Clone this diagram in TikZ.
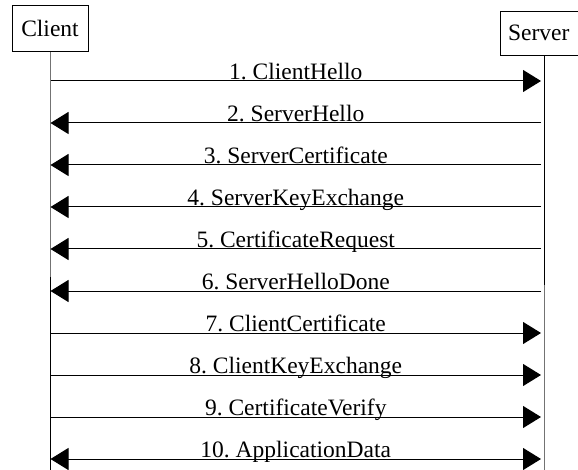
\documentclass[tikz,border=0pt]{standalone}
\usepackage{fontspec}
\setmainfont{Liberation Serif}
\usetikzlibrary{arrows.meta,calc}
\begin{document}
\frenchspacing
\begin{tikzpicture}[x=1pt,y=-1pt,
  actor/.style={draw=black, line width=0.8pt, fill=white, inner sep=0pt, font=\fontsize{23.5}{27}\selectfont},
  msg/.style={line width=1pt, -{Triangle[length=18pt,width=22pt]}},
  bimsg/.style={line width=1pt, {Triangle[length=18pt,width=22pt]}-{Triangle[length=18pt,width=22pt]}},
  lbl/.style={font=\fontsize{23.5}{27}\selectfont\frenchspacing, inner sep=0pt, anchor=base},
  life/.style={line width=1pt}]
\useasboundingbox (0,0) rectangle (578,470);
% lifelines
\coordinate (ctop) at (50,51);
\coordinate (cmid) at (50,277);
\coordinate (cbot) at (50,470);
\coordinate (stop) at (544,55);
\coordinate (smid) at (544,285);
\coordinate (sbot) at (544,470);
\draw[life, draw=black!55] (ctop) -- (cmid);
\draw[life] (cmid) -- (cbot);
\draw[life] (stop) -- (smid);
\draw[life, draw=black!55] (smid) -- (sbot);
% actors
\node[actor, minimum width=76pt, minimum height=46pt] (client) at (50,28) {Client};
\node[actor, minimum width=88pt, minimum height=44pt, text width=74pt, align=left] (server) at (544,33) {\hspace*{1pt}Server};
% messages
\foreach \i/\txt/\dir in {1/1. ClientHello/r, 2/2. ServerHello/l, 3/3. ServerCertificate/l,
  4/4. ServerKeyExchange/l, 5/5. CertificateRequest/l, 6/6. ServerHelloDone/l,
  7/7. ClientCertificate/r, 8/8. ClientKeyExchange/r, 9/9. CertificateVerify/r,
  10/10. ApplicationData/b}{
  \pgfmathsetmacro{\yy}{81+42*(\i-1)}
  \coordinate (c\i) at (50.5,\yy);
  \coordinate (s\i) at (541,\yy);
  \if r\dir
    \draw[msg] (c\i) -- (s\i);
  \fi
  \if l\dir
    \draw[msg] (s\i) -- (c\i);
  \fi
  \if b\dir
    \draw[bimsg] (c\i) -- (s\i);
  \fi
  \node[lbl] (l\i) at ($(c\i)!0.5!(s\i)+(0,-1.8)$) {\txt};
}
\end{tikzpicture}
\end{document}
